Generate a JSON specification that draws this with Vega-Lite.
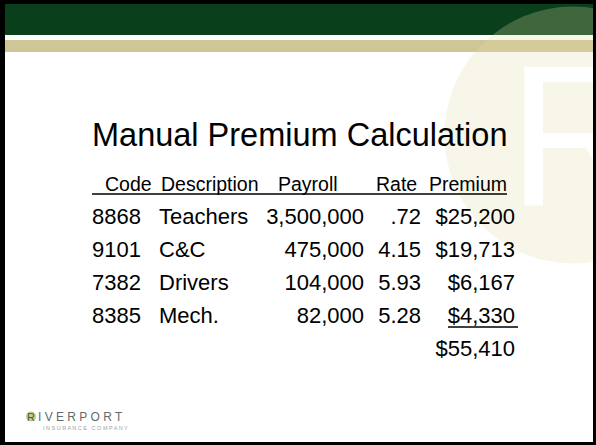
{
  "$schema": "https://vega.github.io/schema/vega-lite/v6.json",
  "width": 596,
  "height": 445,
  "autosize": {"type": "none"},
  "padding": 0,
  "background": "#ffffff",
  "config": {"view": {"stroke": null}, "font": "Liberation Sans", "text": {"font": "Liberation Sans"}},
  "resolve": {"scale": {"y": "independent"}},
  "layer": [
    {
      "data": {"values": [{"slide": "Manual Premium Calculation", "company": "RIVERPORT", "subtitle": "INSURANCE COMPANY"}]},
      "layer": [
        {
          "mark": {"type": "rect", "color": "#0a3f1b"},
          "encoding": {
            "x": {"datum": 0, "type": "quantitative", "scale": {"domain": [0, 596], "nice": false, "zero": false}, "axis": null},
            "x2": {"datum": 596},
            "y": {"datum": 4, "type": "quantitative", "scale": {"domain": [0, 445], "nice": false, "zero": false, "reverse": true}, "axis": null},
            "y2": {"datum": 35}
          }
        },
        {
          "mark": {"type": "rect", "color": "#cfc696"},
          "encoding": {
            "x": {"datum": 0, "type": "quantitative", "scale": {"domain": [0, 596], "nice": false, "zero": false}, "axis": null},
            "x2": {"datum": 596},
            "y": {"datum": 40, "type": "quantitative", "scale": {"domain": [0, 445], "nice": false, "zero": false, "reverse": true}, "axis": null},
            "y2": {"datum": 52}
          }
        },
        {
          "mark": {"type": "point", "filled": true, "shape": "circle", "size": 66052, "color": "#e3dba7", "opacity": 0.25, "strokeWidth": 0},
          "encoding": {
            "x": {"datum": 573, "type": "quantitative", "scale": {"domain": [0, 596], "nice": false, "zero": false}, "axis": null},
            "y": {"datum": 135, "type": "quantitative", "scale": {"domain": [0, 445], "nice": false, "zero": false, "reverse": true}, "axis": null}
          }
        },
        {
          "mark": {"type": "text", "text": "R", "fontSize": 200, "align": "left", "baseline": "alphabetic", "color": "#ffffff"},
          "encoding": {
            "x": {"datum": 508, "type": "quantitative", "scale": {"domain": [0, 596], "nice": false, "zero": false}, "axis": null},
            "y": {"datum": 205, "type": "quantitative", "scale": {"domain": [0, 445], "nice": false, "zero": false, "reverse": true}, "axis": null}
          }
        },
        {
          "mark": {"type": "rect", "color": "#000000"},
          "encoding": {
            "x": {"datum": 0, "type": "quantitative", "scale": {"domain": [0, 596], "nice": false, "zero": false}, "axis": null},
            "x2": {"datum": 596},
            "y": {"datum": 0, "type": "quantitative", "scale": {"domain": [0, 445], "nice": false, "zero": false, "reverse": true}, "axis": null},
            "y2": {"datum": 4}
          }
        },
        {
          "mark": {"type": "rect", "color": "#000000"},
          "encoding": {
            "x": {"datum": 0, "type": "quantitative", "scale": {"domain": [0, 596], "nice": false, "zero": false}, "axis": null},
            "x2": {"datum": 596},
            "y": {"datum": 442, "type": "quantitative", "scale": {"domain": [0, 445], "nice": false, "zero": false, "reverse": true}, "axis": null},
            "y2": {"datum": 445}
          }
        },
        {
          "mark": {"type": "rect", "color": "#000000"},
          "encoding": {
            "x": {"datum": 0, "type": "quantitative", "scale": {"domain": [0, 596], "nice": false, "zero": false}, "axis": null},
            "x2": {"datum": 5},
            "y": {"datum": 0, "type": "quantitative", "scale": {"domain": [0, 445], "nice": false, "zero": false, "reverse": true}, "axis": null},
            "y2": {"datum": 445}
          }
        },
        {
          "mark": {"type": "rect", "color": "#000000"},
          "encoding": {
            "x": {"datum": 593, "type": "quantitative", "scale": {"domain": [0, 596], "nice": false, "zero": false}, "axis": null},
            "x2": {"datum": 596},
            "y": {"datum": 0, "type": "quantitative", "scale": {"domain": [0, 445], "nice": false, "zero": false, "reverse": true}, "axis": null},
            "y2": {"datum": 445}
          }
        },
        {
          "mark": {"type": "text", "fontSize": 32.5, "align": "left", "baseline": "alphabetic", "color": "#000000"},
          "encoding": {
            "x": {"datum": 92, "type": "quantitative", "scale": {"domain": [0, 596], "nice": false, "zero": false}, "axis": null},
            "y": {"datum": 146, "type": "quantitative", "scale": {"domain": [0, 445], "nice": false, "zero": false, "reverse": true}, "axis": null},
            "text": {"field": "slide"}
          }
        },
        {
          "mark": {"type": "rule", "color": "#000000", "strokeWidth": 1.5},
          "encoding": {
            "x": {"datum": 92, "type": "quantitative", "scale": {"domain": [0, 596], "nice": false, "zero": false}, "axis": null},
            "x2": {"datum": 507},
            "y": {"datum": 194, "type": "quantitative", "scale": {"domain": [0, 445], "nice": false, "zero": false, "reverse": true}, "axis": null}
          }
        },
        {
          "mark": {"type": "rule", "color": "#000000", "strokeWidth": 1.5},
          "encoding": {
            "x": {"datum": 448, "type": "quantitative", "scale": {"domain": [0, 596], "nice": false, "zero": false}, "axis": null},
            "x2": {"datum": 518},
            "y": {"datum": 327, "type": "quantitative", "scale": {"domain": [0, 445], "nice": false, "zero": false, "reverse": true}, "axis": null}
          }
        },
        {
          "mark": {"type": "point", "filled": true, "shape": "circle", "size": 100, "color": "#c4cd8e", "opacity": 1, "strokeWidth": 0},
          "encoding": {
            "x": {"datum": 31, "type": "quantitative", "scale": {"domain": [0, 596], "nice": false, "zero": false}, "axis": null},
            "y": {"datum": 416.5, "type": "quantitative", "scale": {"domain": [0, 445], "nice": false, "zero": false, "reverse": true}, "axis": null}
          }
        },
        {
          "mark": {"type": "text", "text": "R", "fontSize": 11, "align": "center", "baseline": "alphabetic", "color": "#4d5a40"},
          "encoding": {
            "x": {"datum": 31, "type": "quantitative", "scale": {"domain": [0, 596], "nice": false, "zero": false}, "axis": null},
            "y": {"datum": 420.5, "type": "quantitative", "scale": {"domain": [0, 445], "nice": false, "zero": false, "reverse": true}, "axis": null}
          }
        },
        {
          "mark": {"type": "text", "text": "I V E R P O R T", "fontSize": 12, "align": "left", "baseline": "alphabetic", "color": "#5f6c6c"},
          "encoding": {
            "x": {"datum": 38, "type": "quantitative", "scale": {"domain": [0, 596], "nice": false, "zero": false}, "axis": null},
            "y": {"datum": 421, "type": "quantitative", "scale": {"domain": [0, 445], "nice": false, "zero": false, "reverse": true}, "axis": null}
          }
        },
        {
          "mark": {"type": "text", "text": "I N S U R A N C E\u00a0\u00a0\u00a0C O M P A N Y", "fontSize": 5.5, "align": "left", "baseline": "alphabetic", "color": "#9aa4a4"},
          "encoding": {
            "x": {"datum": 43, "type": "quantitative", "scale": {"domain": [0, 596], "nice": false, "zero": false}, "axis": null},
            "y": {"datum": 430, "type": "quantitative", "scale": {"domain": [0, 445], "nice": false, "zero": false, "reverse": true}, "axis": null}
          }
        }
      ]
    },
    {
      "data": {"values": [
        {"Code": "8868", "Description": "Teachers", "Payroll": "3,500,000", "Rate": ".72", "Premium": "$25,200"},
        {"Code": "9101", "Description": "C&C", "Payroll": "475,000", "Rate": "4.15", "Premium": "$19,713"},
        {"Code": "7382", "Description": "Drivers", "Payroll": "104,000", "Rate": "5.93", "Premium": "$6,167"},
        {"Code": "8385", "Description": "Mech.", "Payroll": "82,000", "Rate": "5.28", "Premium": "$4,330"}
      ]},
      "layer": [
        {
          "mark": {"type": "text", "fontSize": 22, "align": "left", "baseline": "alphabetic", "color": "#000000"},
          "encoding": {
            "x": {"datum": 92, "type": "quantitative", "scale": {"domain": [0, 596], "nice": false, "zero": false}, "axis": null},
            "y": {"field": "Code", "type": "ordinal", "scale": {"type": "point", "domain": ["Header", "8868", "9101", "7382", "8385", "Total"], "range": [191, 356], "padding": 0}, "axis": null},
            "text": {"field": "Code"}
          }
        },
        {
          "mark": {"type": "text", "fontSize": 22, "align": "left", "baseline": "alphabetic", "color": "#000000"},
          "encoding": {
            "x": {"datum": 159, "type": "quantitative", "scale": {"domain": [0, 596], "nice": false, "zero": false}, "axis": null},
            "y": {"field": "Code", "type": "ordinal", "scale": {"type": "point", "domain": ["Header", "8868", "9101", "7382", "8385", "Total"], "range": [191, 356], "padding": 0}, "axis": null},
            "text": {"field": "Description"}
          }
        },
        {
          "mark": {"type": "text", "fontSize": 22, "align": "right", "baseline": "alphabetic", "color": "#000000"},
          "encoding": {
            "x": {"datum": 364, "type": "quantitative", "scale": {"domain": [0, 596], "nice": false, "zero": false}, "axis": null},
            "y": {"field": "Code", "type": "ordinal", "scale": {"type": "point", "domain": ["Header", "8868", "9101", "7382", "8385", "Total"], "range": [191, 356], "padding": 0}, "axis": null},
            "text": {"field": "Payroll"}
          }
        },
        {
          "mark": {"type": "text", "fontSize": 22, "align": "right", "baseline": "alphabetic", "color": "#000000"},
          "encoding": {
            "x": {"datum": 421, "type": "quantitative", "scale": {"domain": [0, 596], "nice": false, "zero": false}, "axis": null},
            "y": {"field": "Code", "type": "ordinal", "scale": {"type": "point", "domain": ["Header", "8868", "9101", "7382", "8385", "Total"], "range": [191, 356], "padding": 0}, "axis": null},
            "text": {"field": "Rate"}
          }
        },
        {
          "mark": {"type": "text", "fontSize": 22, "align": "right", "baseline": "alphabetic", "color": "#000000"},
          "encoding": {
            "x": {"datum": 515, "type": "quantitative", "scale": {"domain": [0, 596], "nice": false, "zero": false}, "axis": null},
            "y": {"field": "Code", "type": "ordinal", "scale": {"type": "point", "domain": ["Header", "8868", "9101", "7382", "8385", "Total"], "range": [191, 356], "padding": 0}, "axis": null},
            "text": {"field": "Premium"}
          }
        },
        {
          "data": {"values": [{"Total": "$55,410"}]},
          "mark": {"type": "text", "fontSize": 22, "align": "right", "baseline": "alphabetic", "color": "#000000"},
          "encoding": {
            "x": {"datum": 515, "type": "quantitative", "scale": {"domain": [0, 596], "nice": false, "zero": false}, "axis": null},
            "y": {"datum": "Total", "type": "ordinal", "scale": {"type": "point", "domain": ["Header", "8868", "9101", "7382", "8385", "Total"], "range": [191, 356], "padding": 0}, "axis": null},
            "text": {"field": "Total"}
          }
        },
        {
          "data": {"values": [{"Heading": "Code"}]},
          "mark": {"type": "text", "fontSize": 19.5, "align": "left", "baseline": "alphabetic", "color": "#000000"},
          "encoding": {
            "x": {"datum": 105, "type": "quantitative", "scale": {"domain": [0, 596], "nice": false, "zero": false}, "axis": null},
            "y": {"datum": "Header", "type": "ordinal", "scale": {"type": "point", "domain": ["Header", "8868", "9101", "7382", "8385", "Total"], "range": [191, 356], "padding": 0}, "axis": null},
            "text": {"field": "Heading"}
          }
        },
        {
          "data": {"values": [{"Heading": "Description"}]},
          "mark": {"type": "text", "fontSize": 19.5, "align": "left", "baseline": "alphabetic", "color": "#000000"},
          "encoding": {
            "x": {"datum": 161, "type": "quantitative", "scale": {"domain": [0, 596], "nice": false, "zero": false}, "axis": null},
            "y": {"datum": "Header", "type": "ordinal", "scale": {"type": "point", "domain": ["Header", "8868", "9101", "7382", "8385", "Total"], "range": [191, 356], "padding": 0}, "axis": null},
            "text": {"field": "Heading"}
          }
        },
        {
          "data": {"values": [{"Heading": "Payroll"}]},
          "mark": {"type": "text", "fontSize": 19.5, "align": "left", "baseline": "alphabetic", "color": "#000000"},
          "encoding": {
            "x": {"datum": 278, "type": "quantitative", "scale": {"domain": [0, 596], "nice": false, "zero": false}, "axis": null},
            "y": {"datum": "Header", "type": "ordinal", "scale": {"type": "point", "domain": ["Header", "8868", "9101", "7382", "8385", "Total"], "range": [191, 356], "padding": 0}, "axis": null},
            "text": {"field": "Heading"}
          }
        },
        {
          "data": {"values": [{"Heading": "Rate"}]},
          "mark": {"type": "text", "fontSize": 19.5, "align": "left", "baseline": "alphabetic", "color": "#000000"},
          "encoding": {
            "x": {"datum": 376, "type": "quantitative", "scale": {"domain": [0, 596], "nice": false, "zero": false}, "axis": null},
            "y": {"datum": "Header", "type": "ordinal", "scale": {"type": "point", "domain": ["Header", "8868", "9101", "7382", "8385", "Total"], "range": [191, 356], "padding": 0}, "axis": null},
            "text": {"field": "Heading"}
          }
        },
        {
          "data": {"values": [{"Heading": "Premium"}]},
          "mark": {"type": "text", "fontSize": 19.5, "align": "right", "baseline": "alphabetic", "color": "#000000"},
          "encoding": {
            "x": {"datum": 507, "type": "quantitative", "scale": {"domain": [0, 596], "nice": false, "zero": false}, "axis": null},
            "y": {"datum": "Header", "type": "ordinal", "scale": {"type": "point", "domain": ["Header", "8868", "9101", "7382", "8385", "Total"], "range": [191, 356], "padding": 0}, "axis": null},
            "text": {"field": "Heading"}
          }
        }
      ]
    }
  ]
}
